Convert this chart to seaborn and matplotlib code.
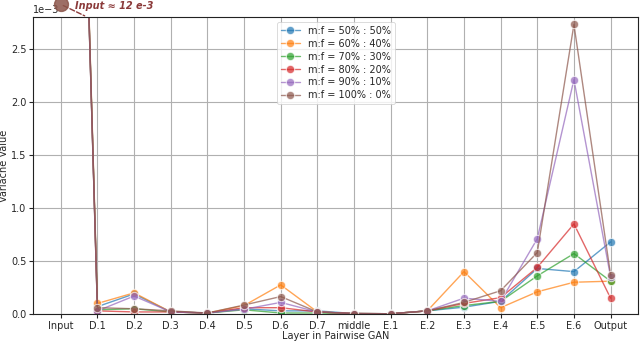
import matplotlib
matplotlib.use("Agg")
import matplotlib.pyplot as plt
import seaborn as sns
import pandas as pd
import numpy as np

layers = ["Input", "D.1", "D.2", "D.3", "D.4", "D.5", "D.6", "D.7", "middle",
          "E.1", "E.2", "E.3", "E.4", "E.5", "E.6", "Output"]

# values in units of 1e-3
s50 = [12.0, 0.07, 0.19, 0.02, 0.01, 0.05, 0.03, 0.03, 0.005, 0.003, 0.03, 0.065, 0.12, 0.43, 0.40, 0.68]
s60 = [12.0, 0.10, 0.20, 0.02, 0.01, 0.08, 0.275, 0.02, 0.005, 0.003, 0.03, 0.40, 0.06, 0.21, 0.30, 0.31]
s70 = [12.0, 0.04, 0.05, 0.02, 0.01, 0.04, 0.01, 0.01, 0.005, 0.003, 0.03, 0.08, 0.12, 0.36, 0.57, 0.31]
s80 = [12.0, 0.03, 0.02, 0.02, 0.01, 0.06, 0.06, 0.02, 0.005, 0.003, 0.03, 0.10, 0.155, 0.44, 0.85, 0.15]
s90 = [12.0, 0.03, 0.17, 0.02, 0.01, 0.045, 0.11, 0.02, 0.005, 0.003, 0.03, 0.15, 0.12, 0.71, 2.21, 0.35]
s100 = [12.0, 0.06, 0.05, 0.03, 0.01, 0.085, 0.165, 0.02, 0.005, 0.003, 0.03, 0.11, 0.22, 0.58, 2.73, 0.37]

series_names = ["m:f = 50% : 50%", "m:f = 60% : 40%", "m:f = 70% : 30%",
                "m:f = 80% : 20%", "m:f = 90% : 10%", "m:f = 100% : 0%"]
series_vals = [s50, s60, s70, s80, s90, s100]

rows = []
for name, vals in zip(series_names, series_vals):
    for i, v in enumerate(vals):
        rows.append({"layer": i, "value": v * 1e-3, "series": name})
df = pd.DataFrame(rows)

sns.set_theme(style="ticks")
plt.rcParams['font.family'] = ['DejaVu Sans']

fig = plt.figure(figsize=(6.4, 3.41), dpi=100)
ax = fig.add_axes([0.052, 0.079, 0.945, 0.871])

palette = sns.color_palette("tab10", 6)
sns.lineplot(data=df, x="layer", y="value", hue="series", hue_order=series_names,
             palette=palette, marker="o", markersize=6, linewidth=1.0, alpha=0.7,
             markeredgewidth=0.8, ax=ax)

ax.set_ylim(0, 2.8e-3)
ax.set_xlim(-0.75, 15.75)
ax.set_xticks(range(len(layers)))
ax.set_xticklabels(layers)
ax.ticklabel_format(axis="y", style="sci", scilimits=(-3, -3))
ax.set_yticks([0, 0.5e-3, 1.0e-3, 1.5e-3, 2.0e-3, 2.5e-3])
ax.tick_params(labelsize=7, length=3, width=0.8, pad=2)
ax.yaxis.get_offset_text().set_fontsize(7)
ax.grid(True, color="#b0b0b0", linewidth=0.8)
for sp in ax.spines.values():
    sp.set_color("#222222")
    sp.set_linewidth(0.8)
ax.set_xlabel("Layer in Pairwise GAN", fontsize=7, labelpad=0)
ax.set_ylabel("Variacne Value", fontsize=7, labelpad=1)

leg = ax.legend(loc="upper center", fontsize=7, framealpha=0.8,
                handlelength=2.0, borderpad=0.4, labelspacing=0.3)
leg.get_frame().set_linewidth(0.6)

brown = palette[5]
ax.plot([0], [2.92e-3], marker="o", markersize=10, color=brown, alpha=0.85,
        clip_on=False, zorder=10)
ax.annotate("", xy=(0.72, 2.8e-3), xytext=(0.0, 2.92e-3),
            arrowprops=dict(arrowstyle="-", linestyle="--", color="#8B3A3A", lw=1.0),
            annotation_clip=False)
ax.text(0.40, 2.905e-3, "Input ≈ 12 e-3", color="#8B3A3A", fontsize=7,
        style="italic", fontweight="bold", va="center", ha="left", clip_on=False)

fig.savefig("out.png", dpi=100)
